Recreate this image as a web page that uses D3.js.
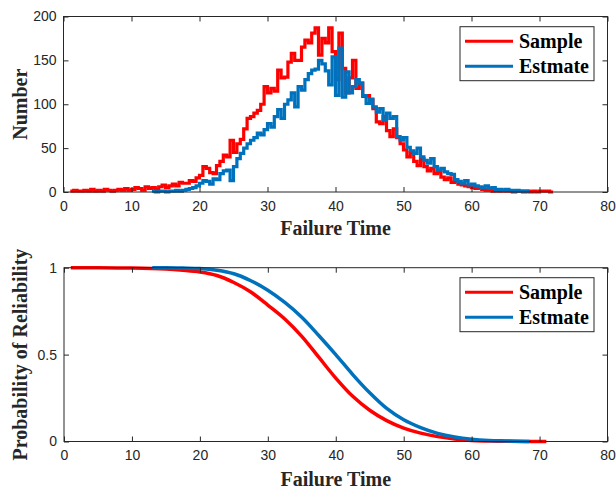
<!DOCTYPE html>
<html>
<head>
<meta charset="utf-8">
<script src="https://cdn.jsdelivr.net/npm/d3@7"></script>
<style>
  body { margin: 0; background: #fff; }
  .tick text { font-family: "Liberation Sans", Arial, sans-serif; font-size: 14px; fill: #262626; }
  .lbl { font-family: "Liberation Serif", "Times New Roman", serif; font-weight: bold; font-size: 20px; fill: #262626; }
  .leg { font-family: "Liberation Serif", "Times New Roman", serif; font-weight: bold; font-size: 20px; fill: #000; }
</style>
</head>
<body>
<div id="chart"></div>
<script>
// histogram, bins of width 0.5
var binWidth = 0.5;
var sampleStart = 1.0;
var sampleCounts = [
  1,2,1,1,2,1,3,1, 2,1,3,2,1,2,3,2,4,2, 3,5,4,2,6,4, 5,3,6,8,5,7, 9,7,11,10,
  10,13,12,16,19,29,27,22,21,30,35,42,40,59,45,55,60,72,84,86,90,93,100,120,
  113,118,115,139,130,131,148,158,150,150,165,173,170,181,187,156,175,170,187,160,
  128,181,141,113,130,150,118,124,109,110,105,95,80,78,86,70,63,72,62,55,
  48,40,45,35,30,38,29,24,27,21,23,17,14,16,11,12,9,8,7,6,
  5,4,5,3,2,3,1,2,1,2,1,1,0,1,1,0,1,0,1,0,1,1,1,0
];
var estStart = 13.0;
var estCounts = [
  1,0,1,1,0,1,1,2,1,2,3,4,5,7,10,13,12,9,15,14,
  21,24,25,13,29,38,44,50,55,59,62,67,65,71,78,74,86,94,84,100,
  105,113,97,120,116,128,135,139,140,150,146,138,122,154,110,164,108,137,113,120,
  128,124,110,101,106,97,91,95,82,90,84,86,63,59,62,51,47,44,50,40,
  36,33,38,29,25,27,23,21,20,14,12,10,13,8,9,7,6,5,7,4,
  5,3,3,2,3,2,1,2,1,1,1
];

// reliability curves
var sampleRelT = [1,5,10,15,17.5,20,22.5,25,27.5,30,32.5,35,37.5,40,42.5,45,47.5,50,52.5,55,57.5,60,62.5,65,71];
var sampleRel  = [1,1,0.998,0.992,0.985,0.975,0.955,0.915,0.86,0.785,0.705,0.605,0.485,0.365,0.26,0.18,0.12,0.077,0.048,0.028,0.015,0.006,0.003,0.001,0];
var estRelT = [13,15,17.5,20,22.5,25,27.5,30,32.5,35,37.5,40,42.5,45,47.5,50,52.5,55,57.5,60,62.5,65,68.5];
var estRel  = [1,1,0.998,0.995,0.985,0.965,0.925,0.87,0.80,0.715,0.61,0.50,0.385,0.28,0.19,0.125,0.08,0.047,0.026,0.013,0.006,0.003,0];

var xTicks = [0,10,20,30,40,50,60,70,80];
var numTicks = [0,50,100,150,200];
var relTicks = [0,0.5,1];
var seriesNames = ["Sample","Estmate"];
var colors = ["#FF0000","#0072BD"];

var width = 616, height = 490;
var svg = d3.select("#chart").append("svg")
  .attr("width", width).attr("height", height);

function stairPoints(start, counts){
  var pts = counts.map(function(c,i){ return [start + i*binWidth, c]; });
  pts.push([start + counts.length*binWidth, counts[counts.length-1]]);
  return pts;
}

function drawAxes(g, x, y, yTickVals, yFmt, box){
  var tl = 5;
  g.append("g").attr("transform","translate(0,"+box.b+")")
    .call(d3.axisBottom(x).tickValues(xTicks).tickSizeInner(-tl).tickSizeOuter(0).tickPadding(9));
  g.append("g").attr("transform","translate(0,"+box.t+")")
    .call(d3.axisTop(x).tickValues(xTicks).tickSizeInner(-tl).tickSizeOuter(0).tickFormat(""));
  g.append("g").attr("transform","translate("+box.l+",0)")
    .call(d3.axisLeft(y).tickValues(yTickVals).tickSizeInner(-tl).tickSizeOuter(0).tickPadding(7).tickFormat(yFmt));
  g.append("g").attr("transform","translate("+box.r+",0)")
    .call(d3.axisRight(y).tickValues(yTickVals).tickSizeInner(-tl).tickSizeOuter(0).tickFormat(""));
  g.selectAll(".domain").remove();
  g.selectAll(".tick line").attr("stroke","#262626");
  g.append("rect").attr("x",box.l).attr("y",box.t)
    .attr("width",box.r-box.l).attr("height",box.b-box.t)
    .attr("fill","none").attr("stroke","#262626").attr("stroke-width",1);
}

function drawLegend(g, x0, y0){
  g.append("rect").attr("x",x0).attr("y",y0).attr("width",134).attr("height",54)
    .attr("fill","#fff").attr("stroke","#262626").attr("stroke-width",1);
  seriesNames.forEach(function(n,i){
    var yy = y0 + 14.5 + i*25;
    g.append("line").attr("x1",x0+5).attr("x2",x0+53).attr("y1",yy).attr("y2",yy)
      .attr("stroke",colors[i]).attr("stroke-width",3);
    g.append("text").attr("class","leg").attr("x",x0+59).attr("y",yy).attr("dy","0.35em").text(n);
  });
}

// ---- top panel: histogram stairs
var box1 = {l:63.5, r:607.5, t:16.5, b:192};
var x1 = d3.scaleLinear().domain([0,80]).range([box1.l, box1.r]);
var y1 = d3.scaleLinear().domain([0,200]).range([box1.b, box1.t]);
var histG = svg.append("g");

var stairLine = d3.line().x(function(d){return x1(d[0]);}).y(function(d){return y1(d[1]);}).curve(d3.curveStepAfter);
histG.append("path").datum(stairPoints(sampleStart, sampleCounts))
  .attr("d", stairLine).attr("fill","none").attr("stroke",colors[0]).attr("stroke-width",3.2);
histG.append("path").datum(stairPoints(estStart, estCounts))
  .attr("d", stairLine).attr("fill","none").attr("stroke",colors[1]).attr("stroke-width",3.2);

drawAxes(histG, x1, y1, numTicks, d3.format("d"), box1);
drawLegend(histG, 460, 26.7);

histG.append("text").attr("class","lbl").attr("text-anchor","middle")
  .attr("x",(box1.l+box1.r)/2).attr("y",235).text("Failure Time");
histG.append("text").attr("class","lbl").attr("text-anchor","middle")
  .attr("transform","translate(27,"+((box1.t+box1.b)/2)+") rotate(-90)").text("Number");

// ---- bottom panel: reliability
var box2 = {l:64, r:607.5, t:267.7, b:441.5};
var x2 = d3.scaleLinear().domain([0,80]).range([box2.l, box2.r]);
var y2 = d3.scaleLinear().domain([0,1]).range([box2.b, box2.t]);
var relG = svg.append("g");

var relLine = d3.line().x(function(d){return x2(d[0]);}).y(function(d){return y2(d[1]);}).curve(d3.curveCatmullRom);
relG.append("path").datum(sampleRelT.map(function(t,i){return [t, sampleRel[i]];}))
  .attr("d", relLine).attr("fill","none").attr("stroke",colors[0]).attr("stroke-width",3.5);
relG.append("path").datum(estRelT.map(function(t,i){return [t, estRel[i]];}))
  .attr("d", relLine).attr("fill","none").attr("stroke",colors[1]).attr("stroke-width",3.5);

drawAxes(relG, x2, y2, relTicks, function(d){ return d === 0.5 ? "0.5" : d3.format("d")(d); }, box2);
drawLegend(relG, 460, 277.7);

relG.append("text").attr("class","lbl").attr("text-anchor","middle")
  .attr("x",(box2.l+box2.r)/2).attr("y",486).text("Failure Time");
relG.append("text").attr("class","lbl").attr("text-anchor","middle")
  .attr("transform","translate(27,"+((box2.t+box2.b)/2)+") rotate(-90)").text("Probability of Reliability");
</script>
</body>
</html>
